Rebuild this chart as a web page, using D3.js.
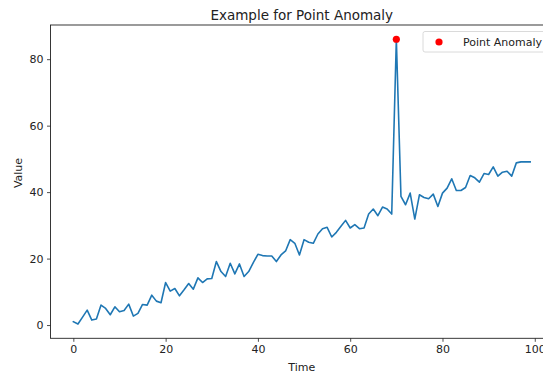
<!DOCTYPE html>
<html>
<head>
<meta charset="utf-8">
<script src="https://cdn.jsdelivr.net/npm/d3@7"></script>
<style>
  html, body { margin: 0; padding: 0; background: #fff; }
  svg { display: block; font-family: "DejaVu Sans", sans-serif; }
</style>
</head>
<body>
<svg id="chart" width="543" height="376"></svg>
<script>
// Time index of each sample
const time = [
  0, 1, 2, 3, 4, 5, 6, 7, 8, 9,
  10, 11, 12, 13, 14, 15, 16, 17, 18, 19,
  20, 21, 22, 23, 24, 25, 26, 27, 28, 29,
  30, 31, 32, 33, 34, 35, 36, 37, 38, 39,
  40, 41, 42, 43, 44, 45, 46, 47, 48, 49,
  50, 51, 52, 53, 54, 55, 56, 57, 58, 59,
  60, 61, 62, 63, 64, 65, 66, 67, 68, 69,
  70, 71, 72, 73, 74, 75, 76, 77, 78, 79,
  80, 81, 82, 83, 84, 85, 86, 87, 88, 89,
  90, 91, 92, 93, 94, 95, 96, 97, 98, 99
];

// Observed series
const values = [
  1.0, 0.3, 2.4, 4.5, 1.5, 1.8, 6.0, 5.0, 3.1, 5.5,
  4.0, 4.4, 6.3, 2.7, 3.5, 6.2, 6.0, 9.0, 7.2, 6.7,
  12.8, 10.2, 11.0, 8.8, 10.6, 12.5, 10.8, 14.2, 12.8, 13.9,
  14.0, 19.1, 16.1, 14.6, 18.6, 15.4, 18.4, 14.6, 16.1, 18.8,
  21.3, 20.9, 20.8, 20.8, 19.1, 21.1, 22.3, 25.7, 24.6, 21.1,
  25.7, 24.9, 24.6, 27.4, 29.0, 29.4, 26.5, 27.9, 29.7, 31.5,
  29.2, 30.2, 29.0, 29.2, 33.4, 34.9, 32.9, 35.5, 34.9, 33.4,
  86.0, 38.7, 36.2, 39.7, 31.9, 39.2, 38.4, 38.0, 39.4, 35.7,
  39.7, 41.2, 44.0, 40.5, 40.5, 41.4, 45.0, 44.3, 43.0, 45.6,
  45.3, 47.6, 44.8, 46.0, 46.3, 44.8, 48.8, 49.1, 49.1, 49.1
];

// Index of the flagged sample
const anomalyIndex = [70];

const xTicks = [0, 20, 40, 60, 80, 100];
const yTicks = [0, 20, 40, 60, 80];

const titleText = "Example for Point Anomaly";
const xLabel = "Time";
const yLabel = "Value";
const legendLabel = "Point Anomaly";

// Plot area
const plot = { left: 50.5, right: 553, top: 25, bottom: 338.3 };

function padded(ext, frac) {
  const span = ext[1] - ext[0];
  return [ext[0] - span * frac, ext[1] + span * frac];
}

const x = d3.scaleLinear()
  .domain(padded(d3.extent(time), 0.05))
  .range([plot.left, plot.right]);

const y = d3.scaleLinear()
  .domain(padded(d3.extent(values), 0.05))
  .range([plot.bottom, plot.top]);

const svg = d3.select("#chart");
const textColor = "#222";

const clipId = "plot-clip";
svg.append("defs").append("clipPath").attr("id", clipId)
  .append("rect")
  .attr("x", plot.left).attr("y", plot.top)
  .attr("width", plot.right - plot.left)
  .attr("height", plot.bottom - plot.top);

// Series line
const line = d3.line()
  .x((d, i) => x(time[i]))
  .y(d => y(d));

svg.append("path")
  .datum(values)
  .attr("clip-path", `url(#${clipId})`)
  .attr("fill", "none")
  .attr("stroke", "#1f77b4")
  .attr("stroke-width", 1.6)
  .attr("stroke-linejoin", "round")
  .attr("stroke-linecap", "square")
  .attr("d", line);

// Anomaly marker
svg.selectAll("circle.anomaly")
  .data(anomalyIndex)
  .join("circle")
  .attr("class", "anomaly")
  .attr("cx", i => x(time[i]))
  .attr("cy", i => y(values[i]))
  .attr("r", 3.6)
  .attr("fill", "red");

// Axes
const xAxis = d3.axisBottom(x)
  .tickValues(xTicks)
  .tickFormat(d3.format("d"))
  .tickSize(3.5)
  .tickPadding(3.5);

const yAxis = d3.axisLeft(y)
  .tickValues(yTicks)
  .tickFormat(d3.format("d"))
  .tickSize(3.5)
  .tickPadding(3.5);

const gx = svg.append("g")
  .attr("transform", `translate(0,${plot.bottom})`)
  .call(xAxis);

const gy = svg.append("g")
  .attr("transform", `translate(${plot.left},0)`)
  .call(yAxis);

[gx, gy].forEach(g => {
  g.select(".domain").remove();
  g.selectAll(".tick line").attr("stroke", textColor).attr("stroke-width", 0.8);
  g.selectAll(".tick text")
    .attr("fill", textColor)
    .style("font-size", "11px")
    .style("font-family", "'DejaVu Sans', sans-serif");
});

// Spines
svg.append("rect")
  .attr("x", plot.left).attr("y", plot.top)
  .attr("width", plot.right - plot.left)
  .attr("height", plot.bottom - plot.top)
  .attr("fill", "none")
  .attr("stroke", textColor)
  .attr("stroke-width", 0.9);

// Title
svg.append("text")
  .attr("x", (plot.left + plot.right) / 2)
  .attr("y", 20)
  .attr("text-anchor", "middle")
  .attr("fill", textColor)
  .style("font-size", "13.5px")
  .text(titleText);

// Axis labels
svg.append("text")
  .attr("x", (plot.left + plot.right) / 2)
  .attr("y", 371)
  .attr("text-anchor", "middle")
  .attr("fill", textColor)
  .style("font-size", "11px")
  .text(xLabel);

svg.append("text")
  .attr("transform", `translate(22,173) rotate(-90)`)
  .attr("text-anchor", "middle")
  .attr("fill", textColor)
  .style("font-size", "11px")
  .text(yLabel);

// Legend
const legend = svg.append("g");
legend.append("rect")
  .attr("x", 423).attr("y", 31.5)
  .attr("width", plot.right - 5 - 423)
  .attr("height", 20.5)
  .attr("rx", 2).attr("ry", 2)
  .attr("fill", "#fff")
  .attr("fill-opacity", 0.8)
  .attr("stroke", "#d0d0d0")
  .attr("stroke-width", 0.8);
legend.append("circle")
  .attr("cx", 439).attr("cy", 42)
  .attr("r", 3.6)
  .attr("fill", "red");
legend.append("text")
  .attr("x", 463).attr("y", 46)
  .attr("fill", textColor)
  .style("font-size", "11px")
  .text(legendLabel);
</script>
</body>
</html>
